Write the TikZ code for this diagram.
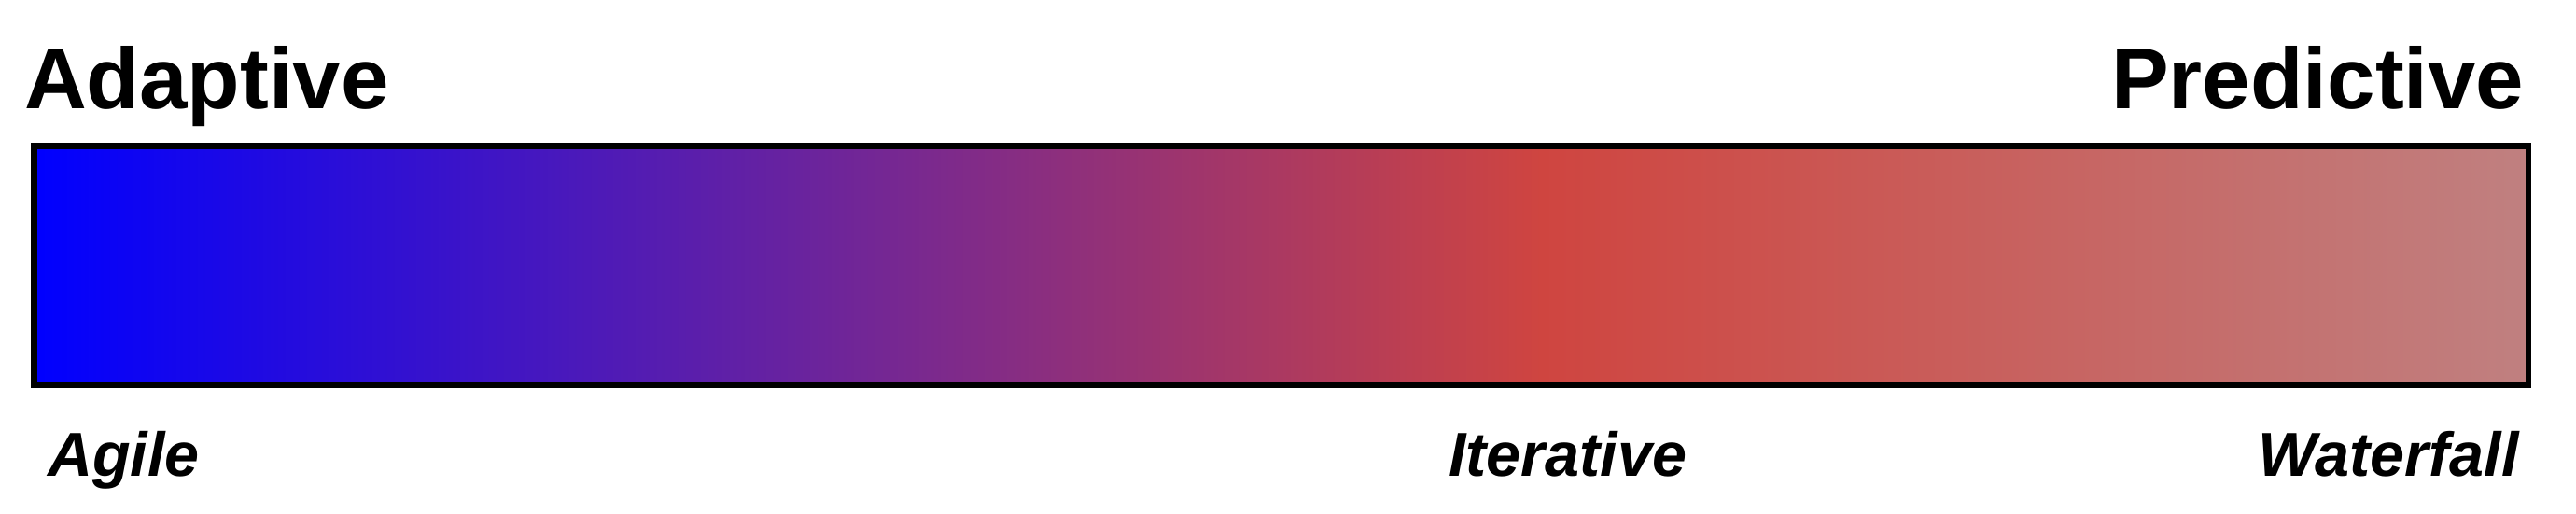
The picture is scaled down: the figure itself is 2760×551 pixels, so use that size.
\documentclass[tikz,border=0pt]{standalone}
\usepackage{fontspec}
\setmainfont{Liberation Sans}
\definecolor{cblue}{RGB}{0,0,255}
\definecolor{cred}{RGB}{207,69,64}
\definecolor{cend}{RGB}{192,128,128}
\tikzset{
  title/.style={inner sep=0pt, anchor=base west, font=\fontsize{92.5}{100}\selectfont\bfseries},
  lab/.style={inner sep=0pt, anchor=base west, font=\fontsize{66.5}{72}\selectfont\bfseries\itshape},
  barframe/.style={draw=black, line width=6.5pt, inner sep=0pt, minimum width=2672.5pt, minimum height=256.5pt}
}
\begin{document}
\begin{tikzpicture}[x=1pt,y=-1pt]
\useasboundingbox (0,0) rectangle (2760,551);
\shade[left color=cblue, right color=cred] (36,156) rectangle (1652,413);
\shade[left color=cred, right color=cend] (1651,156) rectangle (2709,413);
\node[barframe] (bar) at (1372.5,284.5) {};
\node[title] (adaptive) at (26,116) {Adaptive};
\node[title] (predictive) at (2262,116) {Predictive};
\node[lab] (agile) at (51,510) {Agile};
\node[lab] (iterative) at (1552,510) {Iterative};
\node[lab] (waterfall) at (2419,510) {Waterfall};
\end{tikzpicture}
\end{document}
